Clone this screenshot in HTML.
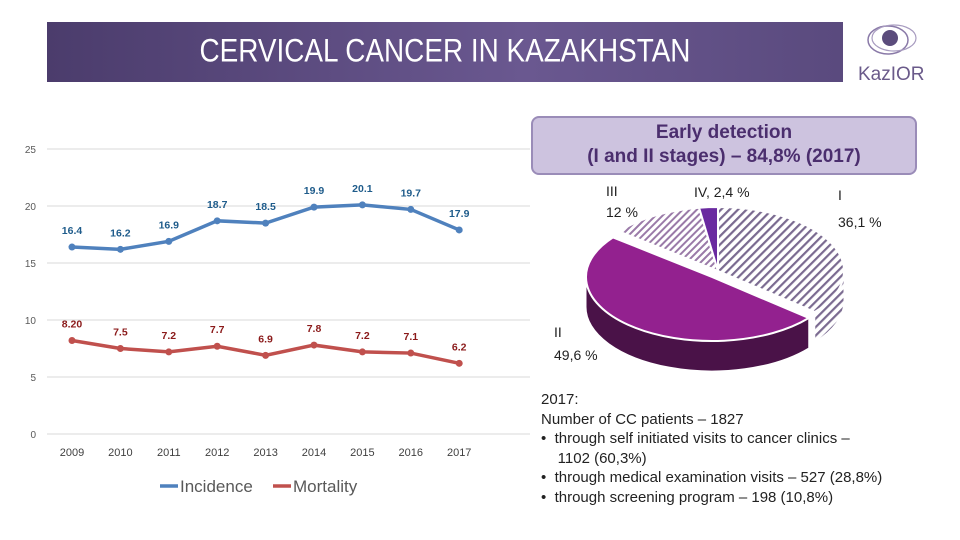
<!DOCTYPE html>
<html><head><meta charset="utf-8"><style>
body{margin:0;width:960px;height:540px;overflow:hidden;background:#fff;font-family:"Liberation Sans",sans-serif;position:relative}
.abs{position:absolute}
</style></head><body>
<div class="abs" style="left:47px;top:22px;width:796px;height:60px;background:linear-gradient(90deg,#4b3c6c,#6a5890 60%,#5a4a7e);"></div>
<div class="abs" style="left:47px;top:35px;width:796px;text-align:center;color:#fff;font-size:30px;transform:scaleX(0.93) scaleY(1.08);">CERVICAL CANCER IN KAZAKHSTAN</div>
<svg class="abs" style="left:850px;top:18px" width="100" height="75">
<ellipse cx="38" cy="22" rx="20" ry="14" fill="none" stroke="#8a7aa8" stroke-width="1.5"/>
<ellipse cx="44" cy="20" rx="22" ry="13" fill="none" stroke="#a89cc0" stroke-width="1.2"/>
<circle cx="40" cy="20" r="8" fill="#5b4c7c"/>
<text x="8" y="62" font-size="19" fill="#6a5a8a" font-family="Liberation Sans">KazIOR</text>
</svg>
<svg id="line" class="abs" style="left:0;top:0" width="530" height="540"></svg>
<div class="abs" style="left:531px;top:116px;width:382px;height:52px;background:#cdc3df;border:2px solid #9a8cb8;border-radius:8px;text-align:center;color:#4b2e6e;font-weight:bold;font-size:19px;line-height:24px;padding-top:3px">Early detection<br>(I and II stages) – 84,8% (2017)</div>
<svg id="pie" class="abs" style="left:530px;top:170px" width="430" height="220"></svg>
<div class="abs" style="left:541px;top:390px;font-size:15px;line-height:19.6px;color:#222">2017:<br>Number of CC patients – 1827<br>• &nbsp;through self initiated visits to cancer clinics –<br>&nbsp;&nbsp;&nbsp;&nbsp;1102 (60,3%)<br>• &nbsp;through medical examination visits – 527 (28,8%)<br>• &nbsp;through screening program – 198 (10,8%)</div>
<script>
const years=["2009","2010","2011","2012","2013","2014","2015","2016","2017"];
const incidence=[16.4,16.2,16.9,18.7,18.5,19.9,20.1,19.7,17.9];
const mortality=[8.2,7.5,7.2,7.7,6.9,7.8,7.2,7.1,6.2];
const mortLabels=["8.20","7.5","7.2","7.7","6.9","7.8","7.2","7.1","6.2"];
const yTicks=[0,5,10,15,20,25];
const stages=["I","II","III","IV"];
const stageVals=[36.1,49.6,12,2.4];
const NS="http://www.w3.org/2000/svg";
function mk(p,t,a){const e=document.createElementNS(NS,t);for(const k in a)e.setAttribute(k,a[k]);p.appendChild(e);return e;}
const L=document.getElementById('line');
const X=i=>72+i*48.4, Y=v=>434-v*11.4;
yTicks.forEach(t=>{
 const g=mk(L,'line',{x1:47,x2:530,y1:Y(t),y2:Y(t),stroke:'#d9d9d9'});
 
 
 const tx=mk(L,'text',{x:36,y:Y(t)+4,'text-anchor':'end','font-size':10,fill:'#595959'});tx.textContent=t;
 
 
});
years.forEach((y,i)=>{const t=mk(L,'text',{x:X(i),y:456,'text-anchor':'middle','font-size':11,fill:'#404040'});t.textContent=y;
 
 });
function series(vals,labs,col,lcol,name){
 const p=mk(L,'polyline',{points:vals.map((v,i)=>X(i)+','+Y(v)).join(' '),fill:'none',stroke:col,'stroke-width':3.5});
 
 
 vals.forEach((v,i)=>{const c=mk(L,'circle',{cx:X(i),cy:Y(v),r:3.5,fill:col});
  
  
  const t=mk(L,'text',{x:X(i),y:Y(v)-13,'text-anchor':'middle','font-size':10.5,'font-weight':'bold',fill:lcol});t.textContent=labs[i];
  
  });
}
series(incidence,incidence.map(v=>v.toFixed(1)),'#4f81bd','#1f5c8b','incidence');
series(mortality,mortLabels,'#c0504d','#8b1a1a','mortality');
[['Incidence','#4f81bd',160],['Mortality','#c0504d',273]].forEach(([n,c,x])=>{
 const l=mk(L,'line',{x1:x,x2:x+18,y1:486,y2:486,stroke:c,'stroke-width':3.5});
 
 
 const t=mk(L,'text',{x:x+20,y:492,'font-size':17,fill:'#595959'});t.textContent=n;
 
 
});
const P=document.getElementById('pie');
const defs=mk(P,'defs',{});
const pat=mk(defs,'pattern',{id:'hatch',width:6,height:6,patternUnits:'userSpaceOnUse',patternTransform:'rotate(45)'});
mk(pat,'rect',{width:6,height:6,fill:'#fff'});mk(pat,'rect',{width:2.2,height:6,fill:'#7a6a90'});
const pat2=mk(defs,'pattern',{id:'hatch2',width:5,height:5,patternUnits:'userSpaceOnUse',patternTransform:'rotate(45)'});
mk(pat2,'rect',{width:5,height:5,fill:'#fff'});mk(pat2,'rect',{width:2,height:5,fill:'#9a7aa8'});
const cx=188,cy=101,rx=126,ry=64,dep=30;
const fills=['url(#hatch)','#93218f','url(#hatch2)','#6a2aa0'];
const tot=stageVals.reduce((a,b)=>a+b,0);
let a0=-Math.PI/2;
const pt=(a,ox,oy,d)=>[cx+ox+rx*Math.cos(a),cy+oy+ry*Math.sin(a)+(d||0)];
stageVals.forEach((v,i)=>{
 const a1=a0+v/tot*2*Math.PI;
 const ox=i==1?-6:0, oy=i==1?6:0;
 const large=(a1-a0)>Math.PI?1:0;
 const s0=Math.max(a0,0), s1=Math.min(a1,Math.PI);
 if(s1>s0){const p0=pt(s0,ox,oy),p1=pt(s1,ox,oy);
  const sd=mk(P,'path',{d:`M${p0} L${p0[0]},${p0[1]+dep} A${rx},${ry} 0 0 1 ${p1[0]},${p1[1]+dep} L${p1} A${rx},${ry} 0 0 0 ${p0}Z`,fill:i==1?'#4a1248':fills[i],stroke:'#fff','stroke-width':1});
  
  }
 const p0=pt(a0,ox,oy),p1=pt(a1,ox,oy);
 const s=mk(P,'path',{d:`M${cx+ox},${cy+oy} L${p0} A${rx},${ry} 0 ${large} 1 ${p1}Z`,fill:fills[i],stroke:'#fff','stroke-width':2});
 
 
 a0=a1;
});
const labs=[['I',308,30],['36,1 %',308,57],['II',24,167],['49,6 %',24,190],['III',76,26],['12 %',76,47],['IV, 2,4 %',164,27]];
labs.forEach(([t,x,y],i)=>{const e=mk(P,'text',{x:x,y:y,'font-size':14,fill:'#222'});e.textContent=t;
 
 });
</script>
</body></html>
